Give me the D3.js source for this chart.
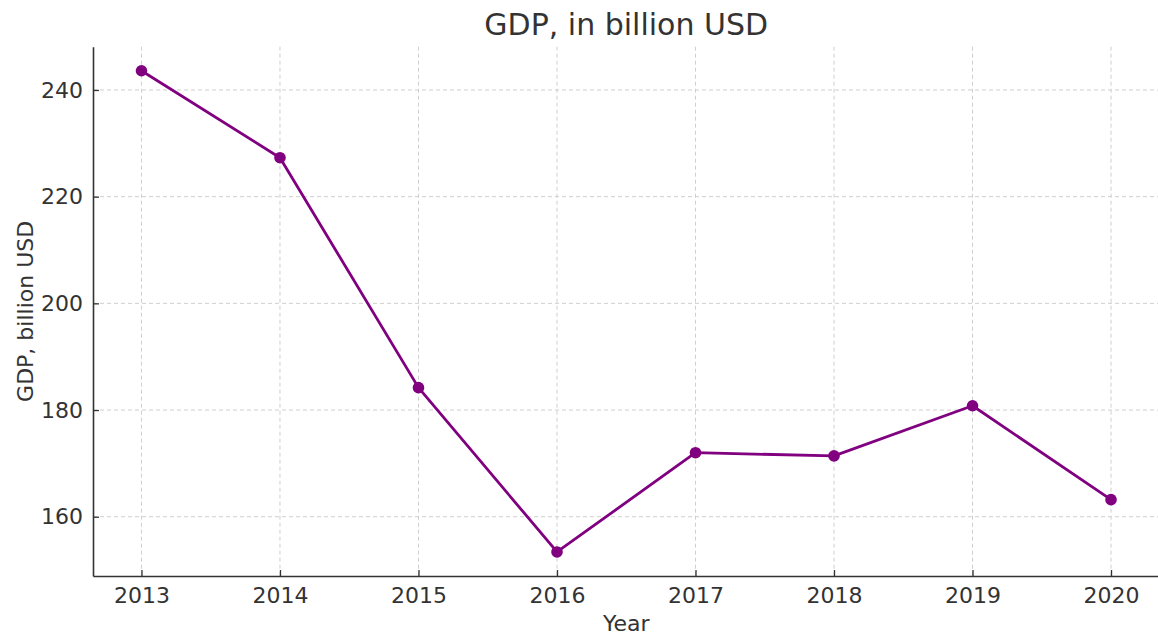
<!DOCTYPE html>
<html>
<head>
<meta charset="utf-8">
<script src="https://cdn.jsdelivr.net/npm/d3@7"></script>
<style>
  body { margin: 0; background: #fff; }
  svg text { font-family: 'DejaVu Sans', sans-serif; fill: #333; }
</style>
</head>
<body>
<svg id="chart" width="1158" height="639"></svg>
<script>
const years = [2013, 2014, 2015, 2016, 2017, 2018, 2019, 2020];
const gdp = [243.6, 227.3, 184.2, 153.4, 172.0, 171.4, 180.8, 163.2];
const yTicks = [160, 180, 200, 220, 240];

const width = 1158;
const height = 639;
const margin = { top: 46.7, right: -1.5, bottom: 63, left: 93 };
const innerW = width - margin.left - margin.right;
const innerH = height - margin.top - margin.bottom;

const svg = d3.select('#chart');
const g = svg.append('g').attr('transform', `translate(${margin.left},${margin.top})`);

// matplotlib style 5% padding
const xPad = (d3.max(years) - d3.min(years)) * 0.05;
const yPad = (d3.max(gdp) - d3.min(gdp)) * 0.05;
const x = d3.scaleLinear().domain([d3.min(years) - xPad, d3.max(years) + xPad]).range([0, innerW]);
const y = d3.scaleLinear().domain([d3.min(gdp) - yPad, d3.max(gdp) + yPad]).range([innerH, 0]);

// grid
g.append('g')
  .selectAll('line')
  .data(years)
  .enter()
  .append('line')
  .attr('x1', (d) => x(d)).attr('x2', (d) => x(d))
  .attr('y1', 0).attr('y2', innerH)
  .attr('stroke', '#cfcfcf').attr('stroke-width', 1).attr('stroke-dasharray', '4,3');
g.append('g')
  .selectAll('line')
  .data(yTicks)
  .enter()
  .append('line')
  .attr('x1', 0).attr('x2', innerW)
  .attr('y1', (d) => y(d)).attr('y2', (d) => y(d))
  .attr('stroke', '#cfcfcf').attr('stroke-width', 1).attr('stroke-dasharray', '4,3');

// axes, ticks pointing inward
const xAxis = g.append('g')
  .attr('transform', `translate(0,${innerH})`)
  .call(d3.axisBottom(x).tickValues(years).tickFormat(d3.format('d')).tickSizeInner(-6).tickSizeOuter(0).tickPadding(11));
const yAxis = g.append('g')
  .call(d3.axisLeft(y).tickValues(yTicks).tickSizeInner(-6).tickSizeOuter(0).tickPadding(10));

[xAxis, yAxis].forEach((ax) => {
  ax.select('.domain').attr('stroke', '#333').attr('stroke-width', 1.6);
  ax.selectAll('.tick line').attr('stroke', '#333').attr('stroke-width', 1.3);
  ax.selectAll('.tick text').style('font-size', '22px').style('font-family', 'DejaVu Sans').attr('fill', '#2b2b2b');
});
xAxis.selectAll('.tick text').attr('dy', '0.71em');

// line and markers
const line = d3.line().x((d, i) => x(years[i])).y((d) => y(d));
g.append('path')
  .datum(gdp)
  .attr('d', line)
  .attr('fill', 'none')
  .attr('stroke', '#800080')
  .attr('stroke-width', 2.8)
  .attr('stroke-linejoin', 'round');

g.append('g')
  .selectAll('circle')
  .data(gdp)
  .enter()
  .append('circle')
  .attr('cx', (d, i) => x(years[i]))
  .attr('cy', (d) => y(d))
  .attr('r', 5.8)
  .attr('fill', '#800080');

// titles
svg.append('text')
  .attr('x', margin.left + innerW / 2)
  .attr('y', 35)
  .attr('text-anchor', 'middle')
  .style('font-size', '30px')
  .text('GDP, in billion USD');

svg.append('text')
  .attr('x', margin.left + innerW / 2)
  .attr('y', 631)
  .attr('text-anchor', 'middle')
  .style('font-size', '22px')
  .text('Year');

svg.append('text')
  .attr('transform', `translate(33,${margin.top + innerH / 2}) rotate(-90)`)
  .attr('text-anchor', 'middle')
  .style('font-size', '22px')
  .text('GDP, billion USD');
</script>
</body>
</html>
